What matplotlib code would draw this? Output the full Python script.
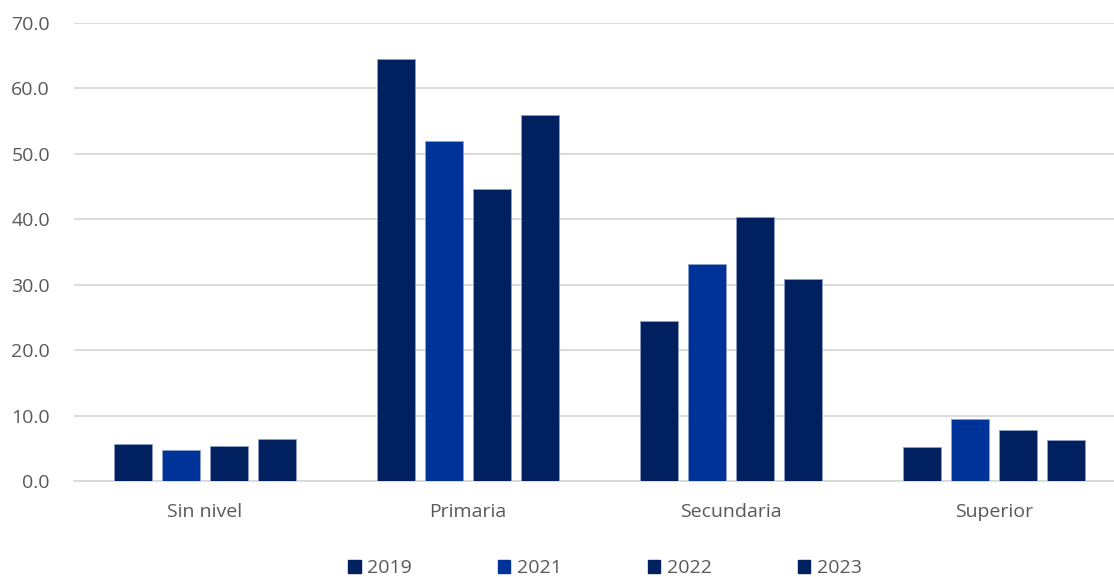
import matplotlib
matplotlib.use("Agg")
import matplotlib.pyplot as plt
import numpy as np
from matplotlib.patches import Patch

categories = ["Sin nivel", "Primaria", "Secundaria", "Superior"]
series_names = ["2019", "2021", "2022", "2023"]
v2019 = [5.6, 64.5, 24.5, 5.2]
v2021 = [4.7, 51.9, 33.2, 9.5]
v2022 = [5.4, 44.6, 40.3, 7.8]
v2023 = [6.4, 56.0, 30.9, 6.3]
yticks = [0, 10, 20, 30, 40, 50, 60, 70]

colors = ["#002060", "#003399", "#002060", "#002060"]
edge = "#8ea0c8"

plt.rcParams['font.family'] = ['Open Sans', 'DejaVu Sans']

W, H = 1114, 577
fig = plt.figure(figsize=(W/100, H/100), dpi=100)
left = 73.5 / W
bottom = (H - 481) / H
top_px = 23
ax = fig.add_axes([left, bottom, 1 - left, (481 - top_px) / H])

x = np.arange(len(categories))
bw = 0.145
step = 0.183
data = [v2019, v2021, v2022, v2023]
for i, vals in enumerate(data):
    off = (i - 1.5) * step
    ax.bar(x + off, vals, width=bw, color=colors[i], edgecolor=edge, linewidth=0.6, zorder=3)

fs = 14
ax.set_ylim(0, 70)
ax.set_xlim(-0.5, 3.5 - 11.5/263)
ax.set_yticks(yticks)
ax.set_yticklabels([f"{t:.1f}" for t in yticks], color="#595959", fontsize=fs)
ax.set_xticks(x)
ax.set_xticklabels(categories, color="#595959", fontsize=fs)
ax.tick_params(axis='both', length=0)
ax.tick_params(axis='x', pad=16)
ax.tick_params(axis='y', pad=17)
ax.yaxis.grid(True, color="#d9d9d9", linewidth=1.3, zorder=0)
for s in ["top", "right", "left"]:
    ax.spines[s].set_visible(False)
ax.spines["bottom"].set_color("#d9d9d9")
ax.spines["bottom"].set_linewidth(1.3)

handles = [Patch(facecolor=colors[i], edgecolor=colors[i]) for i in range(4)]
fig.legend(handles, series_names, loc="center", bbox_to_anchor=(605/W, 1 - 568/H),
           ncol=4, frameon=False, fontsize=fs, handlelength=0.65, handleheight=0.65,
           handletextpad=0.35, columnspacing=4.4, labelcolor="#595959")

fig.savefig("out.png", dpi=100)
